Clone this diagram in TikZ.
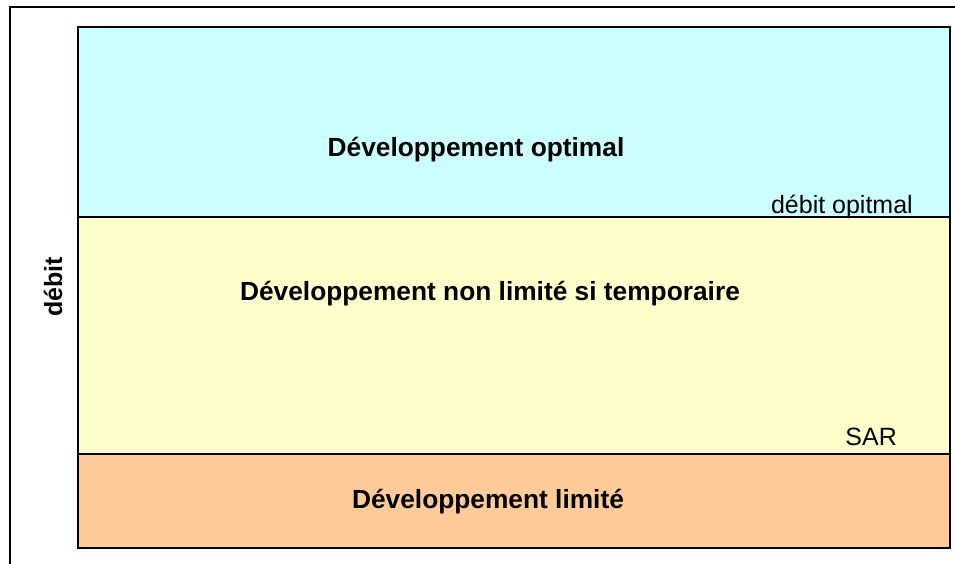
\documentclass[tikz,border=0pt]{standalone}
\usepackage{fontspec}
\setmainfont{Liberation Sans}
\begin{document}
\begin{tikzpicture}[x=1pt,y=-1pt,
  band/.style={draw=black,line width=2.2pt},
  divider/.style={draw=black,line width=2.4pt},
  frameline/.style={draw=black,line width=2.4pt},
  zonelabel/.style={anchor=base,inner sep=0pt,font=\fontsize{26.3}{30}\selectfont\bfseries},
  levellabel/.style={anchor=base east,inner sep=0pt,font=\fontsize{25}{29}\selectfont},
  axislabel/.style={anchor=base,inner sep=0pt,rotate=90,font=\fontsize{25}{29}\selectfont\bfseries}]
  \useasboundingbox (0,0) rectangle (955,564);
  \clip (0,0) rectangle (955,564);
  % outer frame (runs past the right and bottom edges)
  \draw[frameline] (10,7) rectangle (975,590);
  % three bands of the flow scale
  \fill[fill={rgb,255:red,204;green,255;blue,255}] (78,27) rectangle (950,217);
  \fill[fill={rgb,255:red,255;green,255;blue,204}] (78,217) rectangle (950,454);
  \fill[fill={rgb,255:red,255;green,204;blue,153}] (78,454) rectangle (950,548);
  \draw[divider] (78,217) -- (950,217);
  \draw[divider] (78,454) -- (950,454);
  \draw[band] (78,27) rectangle (950,548);
  % labels
  \node[zonelabel] (opt) at (476,157) {Développement optimal};
  \node[zonelabel] (temp) at (490,300) {Développement non limité si temporaire};
  \node[zonelabel] (lim) at (488,508) {Développement limité};
  \node[levellabel] (dopt) at (913,213) {débit opitmal};
  \node[levellabel] (sar) at (897,445) {SAR};
  \node[axislabel] (axis) at (62,287) {débit};
\end{tikzpicture}
\end{document}
